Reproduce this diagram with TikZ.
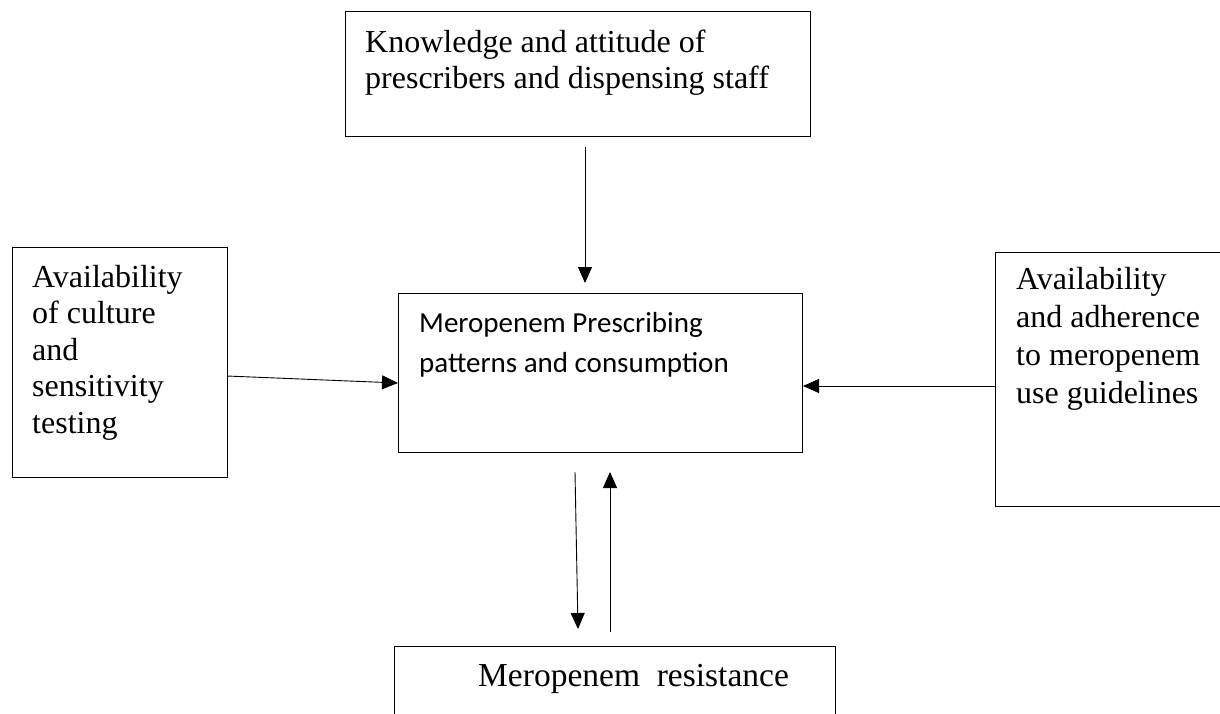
\documentclass[tikz,border=0pt]{standalone}
\usepackage{fontspec}
\setmainfont{Liberation Serif}
\newfontfamily\calibri{Carlito}
\usetikzlibrary{arrows.meta}
\tikzset{
  box/.style={draw, line width=1pt},
  serif/.style={font=\fontsize{32}{36.5}\selectfont, align=left, anchor=base west, inner sep=0pt},
  sans/.style={font=\calibri\fontsize{29}{40}\selectfont, align=left, anchor=base west, inner sep=0pt},
  arr/.style={line width=0.9pt, -{Triangle[length=16pt,width=14pt]}}
}
\begin{document}
\begin{tikzpicture}[x=1pt,y=-1pt]
\useasboundingbox (0,0) rectangle (1220,713);
% boxes
\draw[box] (345,11) rectangle (810,136);
\draw[box] (12,247) rectangle (227,477);
\draw[box] (398,293) rectangle (802,452);
\draw[box] (995,252) rectangle (1240,506);
\draw[box] (394,646) rectangle (835,740);
% texts (anchored at the baseline of the last line)
\node[serif, font=\fontsize{32}{36}\selectfont] (ttop) at (365,88) {Knowledge and attitude of\\prescribers and dispensing staff};
\node[serif] (tleft) at (32,433) {Availability\\of culture\\and\\sensitivity\\testing};
\node[sans] (tcenter) at (419,372) {Meropenem Prescribing\\patterns and consumption};
\node[serif, font=\fontsize{32}{37.7}\selectfont] (tright) at (1016,403) {Availability\\and adherence\\to meropenem\\use guidelines};
\node[serif, font=\fontsize{33.5}{38}\selectfont] (tbottom) at (478,686) {Meropenem\ \ resistance};
% connector end points
\coordinate (a1s) at (585,147);
\coordinate (a1e) at (585,283);
\coordinate (a2s) at (227,376);
\coordinate (a2e) at (398,383);
\coordinate (a3s) at (995,386);
\coordinate (a3e) at (803,386);
\coordinate (a4s) at (575,472);
\coordinate (a4e) at (578,629);
\coordinate (a5s) at (610,632);
\coordinate (a5e) at (610,472);
\draw[arr] (a1s) -- (a1e);
\draw[arr] (a2s) -- (a2e);
\draw[arr] (a3s) -- (a3e);
\draw[arr] (a4s) -- (a4e);
\draw[arr] (a5s) -- (a5e);
\end{tikzpicture}
\end{document}
